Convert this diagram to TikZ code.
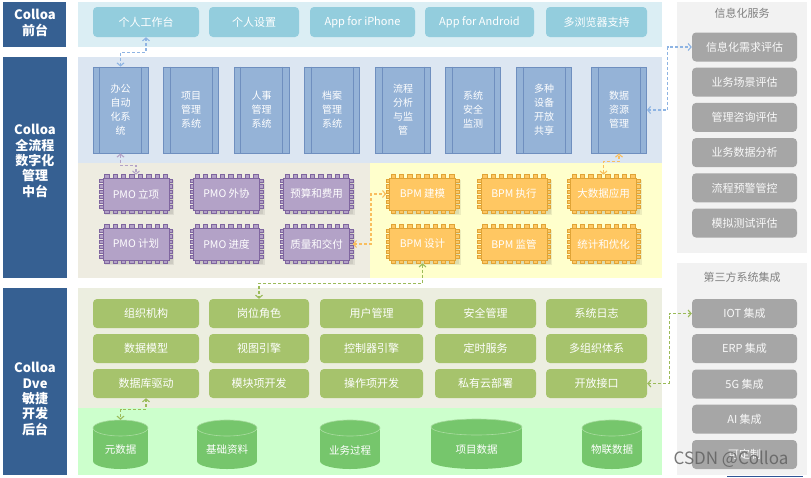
\documentclass[tikz,border=0pt]{standalone}
\usepackage{fontspec}
\setmainfont{Noto Sans CJK SC}
\usetikzlibrary{arrows.meta,calc}
\definecolor{navy}{HTML}{366092}
\definecolor{topband}{HTML}{DBEEF4}
\definecolor{topbtn}{HTML}{93CDDD}
\definecolor{midband}{HTML}{DCE6F2}
\definecolor{sysfill}{HTML}{95B3D7}
\definecolor{sysdraw}{HTML}{6F8FBF}
\definecolor{beige}{HTML}{EEECE1}
\definecolor{lyellow}{HTML}{FFFFCC}
\definecolor{Pfill}{HTML}{B3A2C7}
\definecolor{Pdraw}{HTML}{7F659F}
\definecolor{Ofill}{HTML}{FFC762}
\definecolor{Odraw}{HTML}{E0A436}
\definecolor{botbeige}{HTML}{ECEEE0}
\definecolor{gbtn}{HTML}{A6C36C}
\definecolor{lgreen}{HTML}{CCFFCC}
\definecolor{cylfill}{HTML}{76C66C}
\definecolor{cylrim}{HTML}{A9DCA0}
\definecolor{panel}{HTML}{F2F2F2}
\definecolor{gbox}{HTML}{A6A6A6}
\definecolor{gtitle}{HTML}{808080}
\definecolor{cblue}{HTML}{8EB4E3}
\definecolor{cpurple}{HTML}{B3A2C7}
\definecolor{corange}{HTML}{F9BE5E}
\definecolor{cgreen}{HTML}{9BBB59}
\definecolor{edgeblue}{HTML}{2F5597}

\newcommand{\sysbox}[3]{%
  \node[sysbox] (#1) at (#2,110) {#3};
  \draw[sysdraw, line width=0.8pt] ([xshift=7pt]#1.north west) -- ([xshift=7pt]#1.south west);
  \draw[sysdraw, line width=0.8pt] ([xshift=-7pt]#1.north east) -- ([xshift=-7pt]#1.south east);
}
\newcommand{\chipbox}[5]{%
  \begin{scope}[shift={(#2,#3)}]
    \fill[black, opacity=0.07] (-31,-14) rectangle (38,21);
    \fill[black, opacity=0.07] (-30,-13) rectangle (36.5,19.5);
    \foreach \i in {-3.5,-2.5,...,3.5}{
      \filldraw[fill=#4fill, draw=#4draw, line width=0.5pt] (\i*8.4-2.2,-19.5) rectangle (\i*8.4+2.2,-16);
      \filldraw[fill=#4fill, draw=#4draw, line width=0.5pt] (\i*8.4-2.2,16) rectangle (\i*8.4+2.2,19.5);
    }
    \foreach \j in {-2.5,-1.5,...,2.5}{
      \filldraw[fill=#4fill, draw=#4draw, line width=0.5pt] (-36.5,\j*5.2-1.6) rectangle (-33,\j*5.2+1.6);
      \filldraw[fill=#4fill, draw=#4draw, line width=0.5pt] (33,\j*5.2-1.6) rectangle (36.5,\j*5.2+1.6);
    }
  \end{scope}
  \node[chipnode, fill=#4fill, draw=#4draw] (#1) at (#2,#3) {#5};
}
\newcommand{\cylbox}[5]{% name, cx, half width, top y, text
  \fill[cylfill] (#2-#3,#4+8) rectangle (#2+#3,461);
  \fill[cylfill] (#2,461) ellipse [x radius=#3, y radius=8];
  \filldraw[fill=cylfill, draw=cylrim, line width=0.6pt] (#2,#4+8) ellipse [x radius=#3, y radius=8];
  \node[inner sep=0, minimum width=2*#3pt, minimum height=469pt-#4pt] (#1) at (#2,{(#4+469)/2}) {};
  \node[cyltext] at (#2,450) {#5};
}

\begin{document}
\begin{tikzpicture}[x=1pt, y=-1pt,
  lefttext/.style={text=white, font=\bfseries\fontsize{13}{15.4}\selectfont, align=center},
  topbtnnode/.style={fill=topbtn, rounded corners=4pt, text=white, font=\fontsize{11}{13}\selectfont, minimum height=30pt, inner sep=0},
  sysbox/.style={fill=sysfill, draw=sysdraw, line width=0.8pt, minimum width=55pt, minimum height=86pt, text=white, align=center, font=\fontsize{10}{14}\selectfont, inner sep=0},
  chipnode/.style={minimum width=66pt, minimum height=32pt, line width=0.6pt, text=white, font=\fontsize{10.5}{12}\selectfont, inner sep=0},
  gbtnnode/.style={fill=gbtn, rounded corners=4pt, text=white, font=\fontsize{11}{13}\selectfont, minimum height=29pt, inner sep=0},
  graynode/.style={fill=gbox, rounded corners=4pt, text=white!95!gray, font=\fontsize{11}{13}\selectfont, minimum height=29pt, minimum width=105pt, inner sep=0},
  cyltext/.style={text=white, font=\fontsize{10.5}{12}\selectfont},
  titletext/.style={text=gtitle, font=\fontsize{11}{13}\selectfont},
  conn/.style={dashed, dash pattern=on 3pt off 2pt, line width=1.1pt, {Straight Barb[length=3pt,width=7pt]}-{Straight Barb[length=3pt,width=7pt]}}
]
\useasboundingbox (0,0) rectangle (811,477);
\fill[white] (0,0) rectangle (811,477);

% left column
\fill[navy] (3,2) rectangle (66,47);
\fill[navy] (3,57) rectangle (67,278);
\fill[navy] (3,288) rectangle (67,475);
\node[lefttext] (l1) at (35,23) {Colloa\\前台};
\node[lefttext] (l2) at (35,161) {Colloa\\全流程\\数字化\\管理\\中台};
\node[lefttext] (l3) at (35,399) {Colloa\\Dve\\敏捷\\开发\\后台};

% bands
\fill[topband] (78,2) rectangle (662,47);
\fill[midband] (78,57) rectangle (662,163);
\fill[beige] (78,163) rectangle (370,278);
\fill[lyellow] (370,163) rectangle (662,278);
\fill[botbeige] (78,288) rectangle (662,408);
\fill[lgreen] (78,408) rectangle (662,475);
\fill[panel] (677,2) rectangle (807,253);
\fill[panel] (677,263) rectangle (807,475);

% top buttons
\node[topbtnnode, minimum width=106pt] (ws) at (146,22) {个人工作台};
\node[topbtnnode, minimum width=90pt] (ps) at (254,22) {个人设置};
\node[topbtnnode, minimum width=105pt] (ip) at (362.5,22) {App for iPhone};
\node[topbtnnode, minimum width=109pt] (ad) at (479.5,22) {App for Android};
\node[topbtnnode, minimum width=101pt] (mb) at (596.5,22) {多浏览器支持};

% system boxes
\sysbox{oa}{120.5}{办公\\自动\\化系\\统}
\sysbox{pm}{191}{项目\\管理\\系统}
\sysbox{hr}{261.5}{人事\\管理\\系统}
\sysbox{da}{332}{档案\\管理\\系统}
\sysbox{fa}{403}{流程\\分析\\与监\\管}
\sysbox{ss}{473}{系统\\安全\\监测}
\sysbox{md}{544}{多种\\设备\\开放\\共享}
\sysbox{dr}{619}{数据\\资源\\管理}

% chips
\chipbox{pl}{136}{194}{P}{PMO 立项}
\chipbox{pw}{226.5}{194}{P}{PMO 外协}
\chipbox{yf}{316.5}{194}{P}{预算和费用}
\chipbox{pj}{136}{244}{P}{PMO 计划}
\chipbox{pd}{226.5}{244}{P}{PMO 进度}
\chipbox{zj}{316.5}{244}{P}{质量和交付}
\chipbox{bj}{422.5}{194}{O}{BPM 建模}
\chipbox{bz}{514}{194}{O}{BPM 执行}
\chipbox{bd}{603.5}{194}{O}{大数据应用}
\chipbox{bs}{422.5}{244}{O}{BPM 设计}
\chipbox{bg}{514}{244}{O}{BPM 监管}
\chipbox{tj}{603.5}{244}{O}{统计和优化}

% green buttons
\node[gbtnnode, minimum width=106pt] (zz) at (146,313.5) {组织机构};
\node[gbtnnode, minimum width=100pt] (gw) at (259,313.5) {岗位角色};
\node[gbtnnode, minimum width=103pt] (yh) at (371.5,313.5) {用户管理};
\node[gbtnnode, minimum width=101pt] (aq) at (485.5,313.5) {安全管理};
\node[gbtnnode, minimum width=101pt] (rz) at (596.5,313.5) {系统日志};
\node[gbtnnode, minimum width=106pt] (sj) at (146,348.5) {数据模型};
\node[gbtnnode, minimum width=100pt] (st) at (259,348.5) {视图引擎};
\node[gbtnnode, minimum width=103pt] (kz) at (371.5,348.5) {控制器引擎};
\node[gbtnnode, minimum width=101pt] (ds) at (485.5,348.5) {定时服务};
\node[gbtnnode, minimum width=101pt] (dz) at (596.5,348.5) {多组织体系};
\node[gbtnnode, minimum width=106pt] (qd) at (146,383.5) {数据库驱动};
\node[gbtnnode, minimum width=100pt] (mk) at (259,383.5) {模块项开发};
\node[gbtnnode, minimum width=103pt] (cz) at (371.5,383.5) {操作项开发};
\node[gbtnnode, minimum width=101pt] (sy) at (485.5,383.5) {私有云部署};
\node[gbtnnode, minimum width=101pt] (kf) at (596.5,383.5) {开放接口};

% cylinders
\cylbox{ys}{120.5}{27.5}{420}{元数据}
\cylbox{jc}{227}{30}{420}{基础资料}
\cylbox{yw}{350}{30}{420}{业务过程}
\cylbox{xm}{476.5}{45.5}{419}{项目数据}
\cylbox{wl}{612}{30}{420}{物联数据}

% right panels
\node[titletext] (t1) at (742,13) {信息化服务};
\node[graynode] (ie) at (744.5,47) {信息化需求评估};
\node[graynode] (g2) at (744.5,82.2) {业务场景评估};
\node[graynode] (g3) at (744.5,117.4) {管理咨询评估};
\node[graynode] (g4) at (744.5,152.6) {业务数据分析};
\node[graynode] (g5) at (744.5,187.8) {流程预警管控};
\node[graynode] (g6) at (744.5,223) {模拟测试评估};
\node[titletext] (t2) at (742,277) {第三方系统集成};
\node[graynode] (iot) at (744.5,313.5) {IOT 集成};
\node[graynode] (erp) at (744.5,348.7) {ERP 集成};
\node[graynode] (g5g) at (744.5,384) {5G 集成};
\node[graynode] (ai) at (744.5,419.2) {AI 集成};
\node[graynode] (kd) at (744.5,454.5) {可定制};

% connectors
\draw[conn, cblue] (ws.south) -- ++(0,15) -| (oa.north);
\draw[conn, cpurple] (oa.south) -- ++(0,12) -| ([yshift=3pt]pl.north);
\draw[conn, corange] ([xshift=3pt]zj.east) -- (371,244) |- ([xshift=-3pt]bj.west);
\draw[conn, corange] ([yshift=3pt]bd.north) -- ++(0,-13) -| (dr.south);
\draw[conn, cgreen] ([yshift=-3pt]bs.south) -- ++(0,20) -| (gw.north);
\draw[conn, cgreen] (qd.south) -- ++(0,11) -| (ys.north);
\draw[conn, cblue] (dr.east) -- ++(21,0) |- (ie.west);
\draw[conn, cgreen] (kf.east) -- ++(22,0) |- (iot.west);

% watermark and edge
\node[text=black!62, opacity=0.85, font=\fontsize{17}{17}\selectfont] (wm) at (731,459) {CSDN @Colloa};
\fill[edgeblue] (727,475.5) rectangle (803,477);
\end{tikzpicture}
\end{document}
